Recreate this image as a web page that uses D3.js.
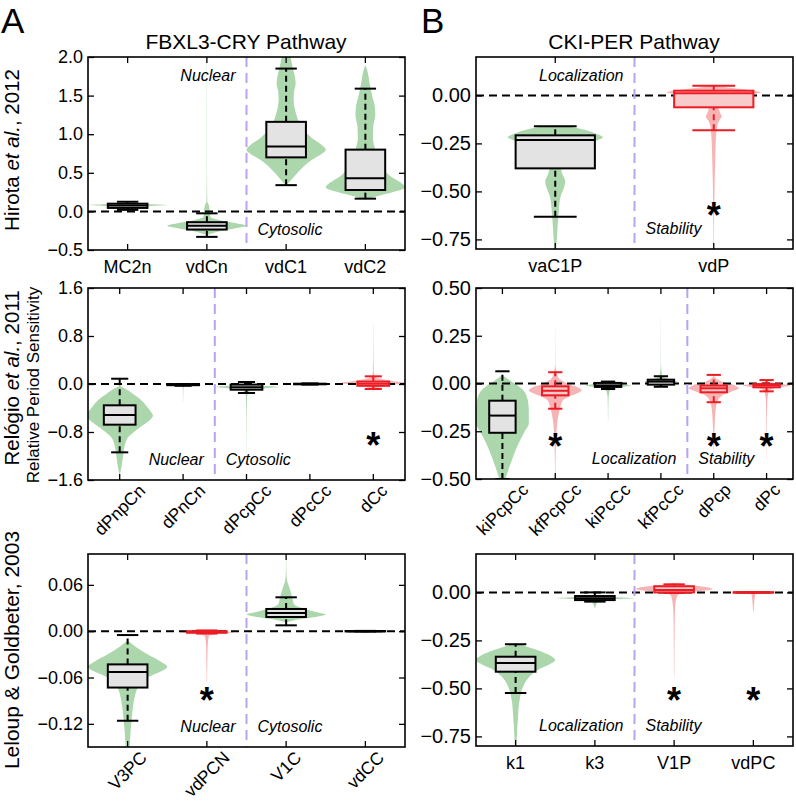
<!DOCTYPE html>
<meta charset="utf-8">
<body>
<script src="https://cdn.jsdelivr.net/npm/d3@7"></script>
<style>
    html, body {
        margin: 0;
        background: #fff;
    }
    svg {
        font-family: "Liberation Sans", Arial, sans-serif;
    }
</style>
<script>
// box stats are [low whisker, q1, median, q3, high whisker]
// violin profiles are [value, relative width] pairs (1 = one category slot)

// A, top: Hirota et al., 2012
var hirotaCats = ["MC2n", "vdCn", "vdC1", "vdC2"];
var hirotaTicks = [-0.5, 0, 0.5, 1, 1.5, 2];
var hirotaBox = [
    [0.02, 0.045, 0.075, 0.1, 0.125],
    [-0.33, -0.235, -0.185, -0.14, -0.025],
    [0.34, 0.70, 0.84, 1.16, 1.85],
    [0.165, 0.277, 0.43, 0.80, 1.59]
];
var hirotaSig = [0, 0, 0, 0];
var hirotaViolin = [
    [[0.13, 0], [0.11, 0.1], [0.095, 0.45], [0.082, 1.0], [0.07, 0.6], [0.055, 0.15], [0.035, 0]],
    [[2.0, 0.003], [0.5, 0.004], [0.13, 0.01], [0.08, 0.05], [0.02, 0.07], [-0.05, 0.08], [-0.08, 0.1],
     [-0.11, 0.3], [-0.15, 0.7], [-0.185, 1.0], [-0.22, 0.7], [-0.26, 0.3], [-0.3, 0.05], [-0.31, 0]],
    [[0.33, 0], [0.38, 0.08], [0.45, 0.2], [0.55, 0.38], [0.65, 0.6], [0.72, 0.82], [0.8, 1.0], [0.86, 0.9],
     [0.95, 0.65], [1.05, 0.45], [1.15, 0.33], [1.25, 0.26], [1.35, 0.21], [1.45, 0.19], [1.55, 0.2],
     [1.65, 0.24], [1.75, 0.22], [1.85, 0.17], [1.95, 0.13], [2.05, 0.1]],
    [[0.15, 0], [0.19, 0.25], [0.25, 0.7], [0.31, 1.0], [0.37, 0.9], [0.45, 0.65], [0.55, 0.45], [0.65, 0.35],
     [0.8, 0.25], [0.95, 0.19], [1.1, 0.2], [1.25, 0.25], [1.35, 0.24], [1.5, 0.17], [1.65, 0.11],
     [1.8, 0.06], [1.9, 0]]
];

// B, top: Hirota et al., 2012
var hirotaPerCats = ["vaC1P", "vdP"];
var hirotaPerTicks = [-0.75, -0.5, -0.25, 0];
var hirotaPerBox = [
    [-0.632, -0.38, -0.232, -0.208, -0.161],
    [-0.182, -0.062, 0.011, 0.0245, 0.05]
];
var hirotaPerSig = [0, 1];
var hirotaPerViolin = [
    [[-0.155, 0], [-0.165, 0.2], [-0.18, 0.38], [-0.2, 0.52], [-0.218, 0.6], [-0.235, 0.52], [-0.258, 0.36],
     [-0.28, 0.2], [-0.32, 0.1], [-0.37, 0.07], [-0.41, 0.09], [-0.45, 0.127], [-0.48, 0.11], [-0.53, 0.065],
     [-0.6, 0.045], [-0.68, 0.03], [-0.75, 0.02], [-0.8, 0.01]],
    [[0.05, 0], [0.04, 0.2], [0.025, 0.5], [0.015, 0.59], [0.005, 0.45], [-0.01, 0.2], [-0.03, 0.08],
     [-0.06, 0.06], [-0.09, 0.08], [-0.11, 0.1], [-0.13, 0.07], [-0.17, 0.04], [-0.25, 0.025],
     [-0.35, 0.018], [-0.45, 0.012], [-0.55, 0.008], [-0.7, 0.004], [-0.8, 0.002]]
];

// A, middle: Relógio et al., 2011
var relogioCats = ["dPnpCn", "dPnCn", "dPcpCc", "dPcCc", "dCc"];
var relogioTicks = [-1.6, -0.8, 0, 0.8, 1.6];
var relogioBox = [
    [-1.139, -0.678, -0.517, -0.355, 0.088],
    [-0.03, -0.02, -0.012, -0.005, 0.0],
    [-0.15, -0.095, -0.055, -0.01, 0.033],
    [-0.01, -0.005, 0, 0.005, 0.01],
    [-0.083, -0.03, 0.005, 0.04, 0.128]
];
var relogioSig = [0, 0, 0, 0, 1];
var relogioViolin = [
    [[-0.03, 0], [-0.08, 0.18], [-0.15, 0.38], [-0.26, 0.66], [-0.37, 0.85], [-0.45, 0.97], [-0.53, 1.05],
     [-0.6, 0.95], [-0.7, 0.7], [-0.8, 0.45], [-0.88, 0.28], [-1.0, 0.17], [-1.15, 0.12], [-1.3, 0.08],
     [-1.43, 0.04], [-1.52, 0]],
    [[0.01, 0], [0.0, 0.3], [-0.01, 0.58], [-0.02, 0.3], [-0.04, 0.02], [-0.1, 0.008], [-0.3, 0.003]],
    [[0.0, 0], [-0.03, 0.5], [-0.05, 1.0], [-0.07, 0.6], [-0.1, 0.2], [-0.14, 0.06], [-0.2, 0.02],
     [-0.5, 0.008], [-1.2, 0.003]],
    [[0.02, 0], [0.0, 0.4], [-0.02, 0]],
    [[1.0, 0.003], [0.6, 0.005], [0.2, 0.015], [0.13, 0.05], [0.09, 0.2], [0.05, 0.6], [0.02, 1.0],
     [-0.01, 0.7], [-0.05, 0.25], [-0.1, 0]]
];

// B, middle: Relógio et al., 2011
var relogioPerCats = ["kiPcpCc", "kfPcpCc", "kiPcCc", "kfPcCc", "dPcp", "dPc"];
var relogioPerTicks = [-0.5, -0.25, 0, 0.25, 0.5];
var relogioPerBox = [
    [-0.5, -0.258, -0.168, -0.09, 0.064],
    [-0.132, -0.062, -0.038, -0.015, 0.059],
    [-0.029, -0.018, -0.01, 0.003, 0.01],
    [-0.017, -0.006, 0.01, 0.02, 0.038],
    [-0.098, -0.046, -0.025, -0.011, 0.045],
    [-0.041, -0.02, -0.01, -0.003, 0.018]
];
var relogioPerSig = [0, 1, 0, 0, 1, 1];
var relogioPerViolin = [
    [[0.045, 0], [0.02, 0.25], [-0.03, 0.76], [-0.08, 0.95], [-0.14, 1.0], [-0.21, 1.0], [-0.25, 0.85],
     [-0.3, 0.66], [-0.35, 0.5], [-0.4, 0.36], [-0.45, 0.23], [-0.5, 0.12]],
    [[0.3, 0.002], [0.1, 0.006], [0.06, 0.05], [0.03, 0.12], [0.0, 0.45], [-0.02, 0.85], [-0.035, 1.0],
     [-0.05, 0.85], [-0.07, 0.5], [-0.09, 0.28], [-0.12, 0.2], [-0.16, 0.13], [-0.2, 0.08], [-0.25, 0.05],
     [-0.35, 0.02], [-0.5, 0.008]],
    [[0.01, 0], [0.0, 0.4], [-0.01, 0.85], [-0.02, 0.4], [-0.04, 0.06], [-0.08, 0.015], [-0.2, 0.004]],
    [[0.35, 0.002], [0.1, 0.006], [0.04, 0.05], [0.02, 0.35], [0.01, 0.62], [0.0, 0.35], [-0.02, 0]],
    [[0.04, 0], [0.01, 0.3], [-0.01, 0.8], [-0.025, 0.95], [-0.04, 0.7], [-0.06, 0.35], [-0.09, 0.15],
     [-0.13, 0.08], [-0.2, 0.04], [-0.3, 0.012], [-0.4, 0.004]],
    [[0.01, 0], [0.0, 0.4], [-0.01, 0.9], [-0.02, 0.45], [-0.04, 0.08], [-0.1, 0.025], [-0.25, 0.008],
     [-0.4, 0.003]]
];

// A, bottom: Leloup & Goldbeter, 2003
var leloupCats = ["V3PC", "vdPCN", "V1C", "vdCC"];
var leloupTicks = [-0.12, -0.06, 0, 0.06];
var leloupBox = [
    [-0.116, -0.073, -0.053, -0.043, -0.005],
    [-0.003, -0.002, -0.001, 0.0, 0.001],
    [0.0076, 0.0184, 0.0236, 0.0288, 0.0439],
    [-0.0004, -0.0002, 0, 0.0002, 0.0004]
];
var leloupSig = [0, 1, 0, 0];
var leloupViolin = [
    [[-0.012, 0], [-0.02, 0.2], [-0.03, 0.5], [-0.04, 0.85], [-0.046, 1.0], [-0.052, 0.85], [-0.06, 0.5],
     [-0.068, 0.32], [-0.075, 0.24], [-0.085, 0.18], [-0.1, 0.13], [-0.115, 0.1], [-0.13, 0.075],
     [-0.15, 0.05]],
    [[0.0015, 0], [0.0, 0.4], [-0.0015, 0.68], [-0.0035, 0.3], [-0.006, 0.05], [-0.02, 0.02],
     [-0.04, 0.012], [-0.065, 0.005]],
    [[0.1, 0.003], [0.075, 0.008], [0.064, 0.03], [0.057, 0.08], [0.05, 0.12], [0.042, 0.16], [0.035, 0.2],
     [0.03, 0.4], [0.025, 0.75], [0.0215, 1.0], [0.019, 0.8], [0.015, 0.3], [0.011, 0]],
    [[0.0005, 0], [0, 0.3], [-0.0005, 0]]
];

// B, bottom: Leloup & Goldbeter, 2003
var leloupPerCats = ["k1", "k3", "V1P", "vdPC"];
var leloupPerTicks = [-0.75, -0.5, -0.25, 0];
var leloupPerBox = [
    [-0.524, -0.413, -0.368, -0.335, -0.27],
    [-0.048, -0.04, -0.03, -0.019, 0.0],
    [-0.003, 0.0, 0.012, 0.032, 0.042],
    [-0.002, -0.001, 0, 0.001, 0.002]
];
var leloupPerSig = [0, 0, 1, 1];
var leloupPerViolin = [
    [[-0.265, 0], [-0.28, 0.25], [-0.3, 0.55], [-0.33, 0.88], [-0.352, 1.0], [-0.375, 0.85], [-0.395, 0.63],
     [-0.42, 0.45], [-0.44, 0.34], [-0.49, 0.19], [-0.56, 0.1], [-0.65, 0.06], [-0.73, 0.035], [-0.8, 0.02]],
    [[-0.015, 0], [-0.025, 0.5], [-0.03, 1.0], [-0.035, 0.5], [-0.045, 0.12], [-0.06, 0.04], [-0.08, 0.01]],
    [[0.05, 0], [0.04, 0.3], [0.03, 0.75], [0.018, 0.97], [0.008, 0.7], [0.0, 0.3], [-0.012, 0.1],
     [-0.03, 0.06], [-0.06, 0.035], [-0.1, 0.02], [-0.2, 0.012], [-0.3, 0.008], [-0.42, 0.005], [-0.45, 0]],
    [[0.006, 0], [0.0, 0.55], [-0.006, 0.05], [-0.1, 0.008]]
];

var green = "#acd6ac",
    pink = "#f7b4b4",
    red = "#ec1c24",
    grey = "#e3e3e3",
    lilac = "#b9a3ef";

var svg = d3.select("body").append("svg")
    .attr("width", 796)
    .attr("height", 802);

var panels = [
    {key: "a1", cats: hirotaCats, box: hirotaBox, sig: hirotaSig, violin: hirotaViolin, ticks: hirotaTicks,
     fmt: ".1f", domain: [-0.5, 2.0], x0: 88, x1: 405, y0: 57, y1: 250, split: 2, tilt: false, tickFont: 18,
     notes: ["Nuclear", "Cytosolic"], noteTop: true, star: null},
    {key: "b1", cats: hirotaPerCats, box: hirotaPerBox, sig: hirotaPerSig, violin: hirotaPerViolin, ticks: hirotaPerTicks,
     fmt: ".2f", domain: [-0.8, 0.2], x0: 476, x1: 793, y0: 57, y1: 249, split: 1, tilt: false, tickFont: 20,
     notes: ["Localization", "Stability"], noteTop: true, star: -0.58},
    {key: "a2", cats: relogioCats, box: relogioBox, sig: relogioSig, violin: relogioViolin, ticks: relogioTicks,
     fmt: ".1f", domain: [-1.6, 1.6], x0: 88, x1: 405, y0: 288, y1: 480, split: 2, tilt: true, tickFont: 18,
     notes: ["Nuclear", "Cytosolic"], noteTop: false, star: -0.88},
    {key: "b2", cats: relogioPerCats, box: relogioPerBox, sig: relogioPerSig, violin: relogioPerViolin, ticks: relogioPerTicks,
     fmt: ".2f", domain: [-0.5, 0.5], x0: 476, x1: 793, y0: 288, y1: 479, split: 4, tilt: true, tickFont: 20,
     notes: ["Localization", "Stability"], noteTop: false, star: -0.285},
    {key: "a3", cats: leloupCats, box: leloupBox, sig: leloupSig, violin: leloupViolin, ticks: leloupTicks,
     fmt: ".2f", domain: [-0.15, 0.1], x0: 88, x1: 405, y0: 554, y1: 747, split: 2, tilt: true, tickFont: 18,
     notes: ["Nuclear", "Cytosolic"], noteTop: false, star: -0.079},
    {key: "b3", cats: leloupPerCats, box: leloupPerBox, sig: leloupPerSig, violin: leloupPerViolin, ticks: leloupPerTicks,
     fmt: ".2f", domain: [-0.8, 0.2], x0: 476, x1: 793, y0: 554, y1: 746, split: 2, tilt: false, tickFont: 20,
     notes: ["Localization", "Stability"], noteTop: false, star: -0.52}
];

panels.forEach(drawPanel);

function drawPanel(p) {
    var x = d3.scaleBand().domain(p.cats).range([p.x0, p.x1]),
        bw = x.bandwidth(),
        y = d3.scaleLinear().domain(p.domain).range([p.y1, p.y0]),
        cx = function(c) { return x(c) + bw / 2; };

    svg.append("clipPath").attr("id", "clip-" + p.key)
        .append("rect")
        .attr("x", p.x0).attr("y", p.y0)
        .attr("width", p.x1 - p.x0).attr("height", p.y1 - p.y0);

    var g = svg.append("g"),
        plot = g.append("g").attr("clip-path", "url(#clip-" + p.key + ")");

    // violins
    plot.selectAll("path.violin")
        .data(p.cats)
        .enter().append("path")
        .attr("class", "violin")
        .attr("fill", function(c, i) { return p.sig[i] ? pink : green; })
        .attr("d", function(c, i) {
            var pts = p.violin[i].slice().sort(function(a, b) { return b[0] - a[0]; });
            return d3.area()
                .y(function(d) { return y(d[0]); })
                .x0(function(d) { return cx(c) - d[1] * bw / 2; })
                .x1(function(d) { return cx(c) + d[1] * bw / 2; })
                .curve(d3.curveMonotoneY)(pts);
        });

    // zero line
    plot.append("line")
        .attr("x1", p.x0).attr("x2", p.x1)
        .attr("y1", y(0)).attr("y2", y(0))
        .attr("stroke", "#000").attr("stroke-width", 2)
        .attr("stroke-dasharray", "8,5");

    // divider between groups
    var xs = p.x0 + p.split * bw;
    plot.append("line")
        .attr("x1", xs).attr("x2", xs)
        .attr("y1", p.y0).attr("y2", p.y1)
        .attr("stroke", lilac).attr("stroke-width", 2)
        .attr("stroke-dasharray", "10,6");

    // boxes
    plot.selectAll("g.box")
        .data(p.cats)
        .enter().append("g")
        .attr("class", "box")
        .each(function(c, i) {
            var s = p.box[i],
                col = p.sig[i] ? red : "#000",
                xc = cx(c),
                b = d3.select(this),
                half = bw / 4,
                cap = bw * 0.135;

            [[s[0], s[1]], [s[3], s[4]]].forEach(function(w) {
                b.append("line")
                    .attr("x1", xc).attr("x2", xc)
                    .attr("y1", y(w[0])).attr("y2", y(w[1]))
                    .attr("stroke", col).attr("stroke-width", 2)
                    .attr("stroke-dasharray", "6,4");
            });
            b.append("rect")
                .attr("x", xc - half).attr("width", 2 * half)
                .attr("y", y(s[3])).attr("height", Math.max(0, y(s[1]) - y(s[3])))
                .attr("fill", p.sig[i] ? "#f9caca" : grey)
                .attr("stroke", col).attr("stroke-width", 2);
            b.append("line")
                .attr("x1", xc - half).attr("x2", xc + half)
                .attr("y1", y(s[2])).attr("y2", y(s[2]))
                .attr("stroke", col).attr("stroke-width", 2);
            [s[0], s[4]].forEach(function(v) {
                b.append("line")
                    .attr("x1", xc - cap).attr("x2", xc + cap)
                    .attr("y1", y(v)).attr("y2", y(v))
                    .attr("stroke", col).attr("stroke-width", 2);
            });
        });

    // significance stars
    if (p.star !== null) {
        g.selectAll("text.star")
            .data(p.cats.filter(function(c, i) { return p.sig[i]; }))
            .enter().append("text")
            .attr("class", "star")
            .attr("x", cx)
            .attr("y", y(p.star) + 21)
            .attr("text-anchor", "middle")
            .attr("font-size", 36)
            .attr("font-weight", "bold")
            .text("*");
    }

    // group notes
    var ny = p.noteTop ? p.y0 + 24 : p.y1 - 15;
    g.append("text")
        .attr("x", xs - 11).attr("y", ny)
        .attr("text-anchor", "end")
        .attr("font-size", 16).attr("font-style", "italic")
        .text(p.notes[0]);
    g.append("text")
        .attr("x", xs + 11).attr("y", p.noteTop ? p.y1 - 15 : ny)
        .attr("font-size", 16).attr("font-style", "italic")
        .text(p.notes[1]);

    // axes, ticks pointing inwards on all four sides
    var left = g.append("g")
        .attr("transform", "translate(" + p.x0 + ",0)")
        .call(d3.axisLeft(y).tickValues(p.ticks).tickSize(-6).tickSizeOuter(0)
            .tickPadding(5).tickFormat(d3.format(p.fmt)));
    var right = g.append("g")
        .attr("transform", "translate(" + p.x1 + ",0)")
        .call(d3.axisRight(y).tickValues(p.ticks).tickSize(-6).tickSizeOuter(0).tickFormat(""));
    var bottom = g.append("g")
        .attr("transform", "translate(0," + p.y1 + ")")
        .call(d3.axisBottom(x).tickSize(-6).tickSizeOuter(0).tickFormat(""));
    var top = g.append("g")
        .attr("transform", "translate(0," + p.y0 + ")")
        .call(d3.axisTop(x).tickSize(-6).tickSizeOuter(0).tickFormat(""));

    [left, right, bottom, top].forEach(function(a) {
        a.select(".domain").remove();
        a.selectAll(".tick line").attr("stroke-width", 1.3);
    });
    left.selectAll("text")
        .attr("font-size", p.tickFont)
        .attr("font-family", "Liberation Sans, Arial, sans-serif")
        .attr("fill", "#000");

    // category labels
    var labels = g.selectAll("text.cat")
        .data(p.cats)
        .enter().append("text")
        .attr("class", "cat")
        .attr("font-size", p.tilt ? 17.5 : 18)
        .attr("text-anchor", "middle")
        .text(function(c) { return c; });

    if (p.tilt) {
        labels
            .attr("dominant-baseline", "central")
            .attr("transform", function(c) {
                var len = this.getComputedTextLength(),
                    h = (len + 13) * Math.SQRT1_2;
                return "translate(" + [cx(c), p.y1 + 3 + h / 2] + ") rotate(-45)";
            });
    } else {
        labels.attr("x", cx).attr("y", p.y1 + 23);
    }

    // frame
    g.append("rect")
        .attr("x", p.x0).attr("y", p.y0)
        .attr("width", p.x1 - p.x0).attr("height", p.y1 - p.y0)
        .attr("fill", "none")
        .attr("stroke", "#000").attr("stroke-width", 1.6);
}

// titles and panel letters
svg.append("text").attr("x", 246).attr("y", 49)
    .attr("text-anchor", "middle").attr("font-size", 21)
    .text("FBXL3-CRY Pathway");
svg.append("text").attr("x", 634).attr("y", 49)
    .attr("text-anchor", "middle").attr("font-size", 21)
    .text("CKI-PER Pathway");
svg.append("text").attr("x", 1).attr("y", 33).attr("font-size", 35).text("A");
svg.append("text").attr("x", 421).attr("y", 33).attr("font-size", 35).text("B");

// row labels
function rowLabel(xb, yc, parts, size) {
    var t = svg.append("text")
        .attr("transform", "translate(" + xb + "," + yc + ") rotate(-90)")
        .attr("text-anchor", "middle")
        .attr("font-size", size);
    parts.forEach(function(s) {
        t.append("tspan")
            .attr("font-style", s[1] ? "italic" : null)
            .text(s[0]);
    });
}
rowLabel(19, 150, [["Hirota ", 0], ["et al.", 1], [", 2012", 0]], 20.5);
rowLabel(19, 378, [["Relógio ", 0], ["et al.", 1], [", 2011", 0]], 20.5);
rowLabel(39, 385, [["Relative Period Sensitivity", 0]], 17);
rowLabel(19, 650, [["Leloup & Goldbeter, 2003", 0]], 21);
</script>
